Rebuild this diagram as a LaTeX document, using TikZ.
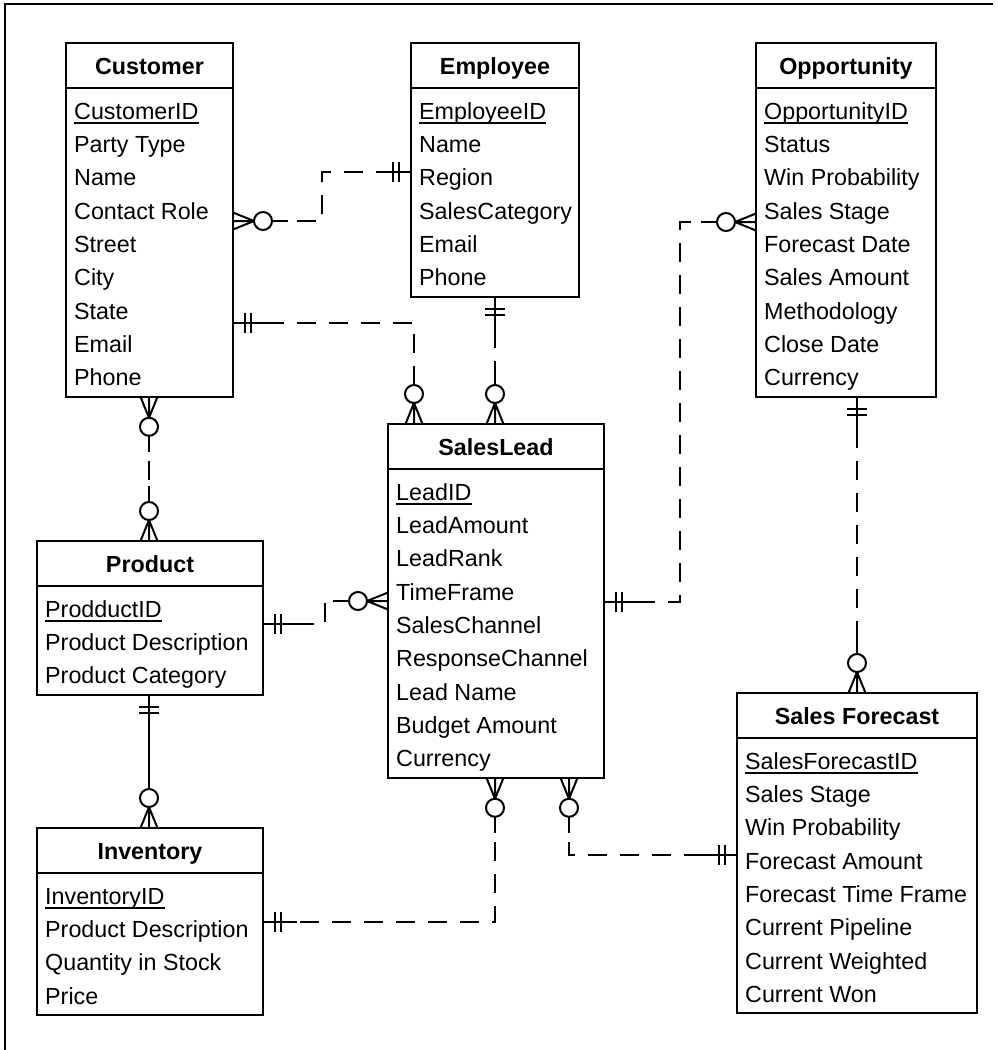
\documentclass[tikz,border=0pt]{standalone}
\usepackage{fontspec}
\setmainfont{Liberation Sans}
\usetikzlibrary{calc}

% entity box: name, left x, right x, top y, number of attribute rows, title, rows (first row is the key)
\newcommand\entity[7]{%
  \pgfmathsetmacro\ebot{#4+76+33.35*(#5-1)+11}%
  \node[entbox, anchor=north west, minimum width={#3-#2}, minimum height={\ebot-#4}] (#1) at (#2,#4) {};
  \draw[entline] ($(#1.north west)+(0,45)$) -- ($(#1.north east)+(0,45)$);
  \node[enthead] (#1-title) at ($(#1.north)+(0,31)$) {#6};
  \foreach \rowtxt [count=\i from 0] in {#7} {
    \node[entrow] (#1-r\i) at ($(#1.north west)+(8,{76+33.35*\i})$) {\rowtxt};
  }
  \draw[keyline] ($(#1-r0.base west)+(0,4)$) -- ($(#1-r0.base east)+(0,4)$);
}

% zero-or-many end: crow's foot at the entity edge, then a ring
\newcommand\zeromany[2]{%
  \begin{scope}[shift={(#1)}, rotate=#2]
    \draw[markline] (0,-8.5) -- (21,0) -- (0,8.5) (0,0) -- (21,0);
    \draw[markline, fill=white] (30,0) circle[radius=9];
    \draw[markline] (39,0) -- (55,0);
  \end{scope}}

% exactly-one end: two bars across the line
\newcommand\exactone[2]{%
  \begin{scope}[shift={(#1)}, rotate=#2]
    \draw[markline] (0,0) -- (34,0) (12,-10) -- (12,10) (18,-10) -- (18,10);
  \end{scope}}

\tikzset{
  entbox/.style={draw, line width=2pt, inner sep=0pt, outer sep=0pt, fill=white},
  entline/.style={line width=2pt},
  enthead/.style={anchor=base, inner sep=0pt, font=\fontsize{23.3}{28}\selectfont\bfseries},
  entrow/.style={anchor=base west, inner sep=0pt, font=\fontsize{23.3}{28}\selectfont},
  keyline/.style={line width=1.5pt},
  relline/.style={line width=2pt, dash pattern=on 19pt off 13pt},
  solidrel/.style={line width=2pt},
  markline/.style={line width=2pt, solid},
  frameline/.style={line width=2pt}
}

\begin{document}
\begin{tikzpicture}[x=1pt, y=-1pt]
\useasboundingbox (0,0) rectangle (997,1050);
\fill[white] (0,0) rectangle (997,1050);
\draw[frameline] (5,1050) -- (5,4) -- (993,4);

\entity{cust}{66}{233}{43}{9}{Customer}{CustomerID,Party Type,Name,Contact Role,Street,City,State,Email,Phone}
\entity{emp}{411}{579}{43}{6}{Employee}{EmployeeID,Name,Region,SalesCategory,Email,Phone}
\entity{opp}{756}{936}{43}{9}{Opportunity}{OpportunityID,Status,Win Probability,Sales Stage,Forecast Date,Sales Amount,Methodology,Close Date,Currency}
\entity{lead}{388}{604}{424}{9}{SalesLead}{LeadID,LeadAmount,LeadRank,TimeFrame,SalesChannel,ResponseChannel,Lead Name,Budget Amount,Currency}
\entity{prod}{37}{263}{541}{3}{Product}{ProdductID,Product Description,Product Category}
\entity{inv}{37}{263}{828}{4}{Inventory}{InventoryID,Product Description,Quantity in Stock,Price}
\entity{fc}{737}{977}{693}{8}{Sales Forecast}{SalesForecastID,Sales Stage,Win Probability,Forecast Amount,Forecast Time Frame,Current Pipeline,Current Weighted,Current Won}

% connector end points on the entity edges
\coordinate (ce) at ($(cust.north east)+(0,178)$);
\coordinate (ec) at ($(emp.north west)+(0,129)$);
\coordinate (cl) at ($(cust.north east)+(0,280)$);
\coordinate (lc) at ($(lead.north west)+(26,0)$);
\coordinate (el) at ($(emp.south west)+(84,0)$);
\coordinate (le) at ($(lead.north west)+(107,0)$);
\coordinate (cp) at ($(cust.south west)+(83,0)$);
\coordinate (pc) at ($(prod.north west)+(112,0)$);
\coordinate (pl) at ($(prod.north east)+(0,83)$);
\coordinate (lp) at ($(lead.north west)+(0,177)$);
\coordinate (lo) at ($(lead.north east)+(0,178)$);
\coordinate (ol) at ($(opp.north west)+(0,179)$);
\coordinate (of) at ($(opp.south west)+(101,0)$);
\coordinate (fo) at ($(fc.north west)+(120,0)$);
\coordinate (lf) at ($(lead.south west)+(181,0)$);
\coordinate (fl) at ($(fc.north west)+(0,162)$);
\coordinate (li) at ($(lead.south west)+(107,0)$);
\coordinate (il) at ($(inv.north east)+(0,94)$);
\coordinate (pi) at ($(prod.south west)+(112,0)$);
\coordinate (ip) at ($(inv.north west)+(112,0)$);

% relationship lines
\draw[relline] (ce) -- ++(89,0) |- (ec);
\draw[relline] (cl) -| (lc);
\draw[relline] (el) -- (le);
\draw[relline] (cp) -- (pc);
\draw[relline] (pl) -- ++(62,0) |- (lp);
\draw[relline] (lo) -- ++(76,0) |- (ol);
\draw[relline] (of) -- (fo);
\draw[relline] (lf) |- (fl);
\draw[relline] (li) |- (il);
\draw[solidrel] (pi) -- (ip);

% cardinality marks
\zeromany{ce}{0}    \exactone{ec}{180}
\exactone{cl}{0}    \zeromany{lc}{90}
\exactone{el}{270}  \zeromany{le}{90}
\zeromany{cp}{270}  \zeromany{pc}{90}
\exactone{pl}{0}    \zeromany{lp}{180}
\exactone{lo}{0}    \zeromany{ol}{180}
\exactone{of}{270}  \zeromany{fo}{90}
\zeromany{lf}{270}  \exactone{fl}{180}
\zeromany{li}{270}  \exactone{il}{0}
\exactone{pi}{270}  \zeromany{ip}{90}
\end{tikzpicture}
\end{document}
